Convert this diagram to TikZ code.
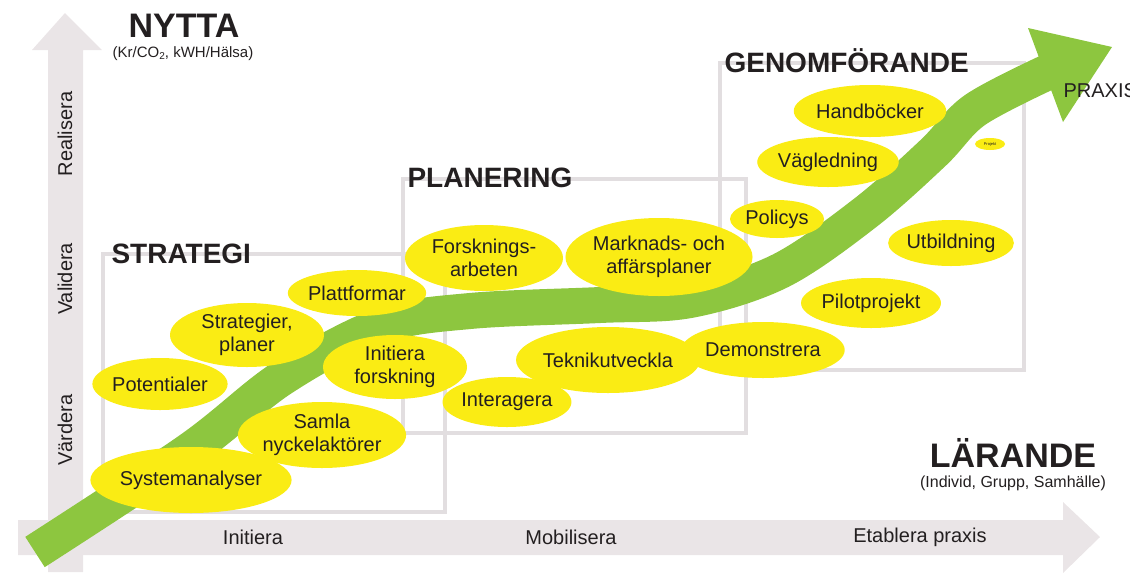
\documentclass[tikz,border=0pt]{standalone}
\usepackage{fontspec}
\setmainfont{Liberation Sans}
\usetikzlibrary{shapes.geometric}
\definecolor{axisgray}{RGB}{234,229,231}
\definecolor{boxgray}{RGB}{226,222,224}
\definecolor{leafgreen}{RGB}{141,198,63}
\definecolor{blobyellow}{RGB}{250,236,20}
\definecolor{inkgray}{RGB}{35,31,32}
\begin{document}
\begin{tikzpicture}[x=1pt,y=-1pt,
		blob/.style 2 args={ellipse, fill=blobyellow, inner sep=0pt, align=center, text=inkgray,
			font=\fontsize{20}{23}\selectfont, minimum width=#1, minimum height=#2},
		boxline/.style={draw=boxgray, line width=4pt},
		title/.style={font=\fontsize{28}{30}\selectfont\bfseries, text=inkgray},
		axislbl/.style={font=\fontsize{20}{22}\selectfont, text=inkgray}]
	\useasboundingbox (0,0) rectangle (1130,587);
	% axes
	\fill[axisgray] (48,572) -- (48,50) -- (32,50) -- (65,13) -- (102,50) -- (83,50) -- (83,572) -- cycle;
	\fill[axisgray] (18,520) -- (1063,520) -- (1063,502) -- (1100,537) -- (1063,573) -- (1063,555) -- (18,555) -- cycle;
	\node[axislbl, rotate=90] (vardera) at (65,430) {Värdera};
	\node[axislbl, rotate=90] (validera) at (65,279) {Validera};
	\node[axislbl, rotate=90] (realisera) at (65,134) {Realisera};
	\node[axislbl] (initiera) at (253,537) {Initiera};
	\node[axislbl] (mobilisera) at (571,537) {Mobilisera};
	\node[axislbl] (etablera) at (920,537) {Etablera praxis};
	\node[font=\fontsize{34}{36}\selectfont\bfseries, text=inkgray] (nytta) at (184,26) {NYTTA};
	\node[font=\fontsize{15}{17}\selectfont, text=inkgray] (nyttasub) at (183,54) {(Kr/CO{\fontsize{10}{10}\selectfont\raisebox{-1.5pt}{2}}, kWH/Hälsa)};
	\node[font=\fontsize{34}{36}\selectfont\bfseries, text=inkgray, inner sep=0pt] (larande) at (1013,453) {LÄRANDE};
	\node[font=\fontsize{16}{18}\selectfont, text=inkgray, inner sep=0pt] (larandesub) at (1013,483) {(Individ, Grupp, Samhälle)};
	% phase boxes
	\draw[boxline] (103,254) rectangle (445,512);
	\draw[boxline] (403,179) rectangle (746,433);
	\draw[boxline] (720,63) rectangle (1024,370);
	\node[title, anchor=west] (strategi) at (108,254) {STRATEGI};
	\node[title, anchor=west] (planering) at (404,178) {PLANERING};
	\node[title, anchor=west] (genomf) at (721,61) {GENOMFÖRANDE};
	% green path
	\draw[leafgreen, line width=36pt] plot[smooth, tension=0.55] coordinates {(35,552) (190,450) (282,378) (380,326) (470,311) (600,305) (690,300) (780,271) (865,213) (933,153) (975,110) (1048,72)};
	\fill[leafgreen] (1028,28) -- (1112,47) -- (1063,122) -- cycle;
	\node[font=\fontsize{20}{22}\selectfont, text=inkgray, anchor=west] (praxis) at (1060,91) {PRAXIS};
	% activities
	\node[blob={158pt}{66pt}] (sysanalys) at (191,480) {Systemanalyser};
	\node[blob={144pt}{66pt}] (samla) at (322,435) {Samla\\nyckelaktörer};
	\node[blob={116pt}{52pt}] (potential) at (160,384) {Potentialer};
	\node[blob={154pt}{64pt}] (strategier) at (247,335) {Strategier,\\planer};
	\node[blob={122pt}{46pt}] (plattform) at (357,293) {Plattformar};
	\node[blob={144pt}{64pt}] (initforsk) at (395,367) {Initiera\\forskning};
	\node[blob={158pt}{66pt}] (forskarb) at (484,258) {Forsknings-\\arbeten};
	\node[blob={116pt}{50pt}] (interagera) at (507,402) {Interagera};
	\node[blob={160pt}{66pt}] (teknik) at (608,360) {Teknikutveckla};
	\node[blob={168pt}{78pt}] (marknad) at (659,257) {Marknads- och\\affärsplaner};
	\node[blob={140pt}{56pt}] (demo) at (763,350) {Demonstrera};
	\node[blob={94pt}{38pt}] (policys) at (777,219) {Policys};
	\node[blob={130pt}{50pt}] (vagledning) at (828,162) {Vägledning};
	\node[blob={126pt}{52pt}] (handbocker) at (870,111) {Handböcker};
	\node[blob={30pt}{12pt}, font=\fontsize{4}{5}\selectfont] (projekt) at (990,144) {Projekt};
	\node[blob={110pt}{46pt}] (utbildning) at (951,243) {Utbildning};
	\node[blob={122pt}{50pt}] (pilot) at (871,303) {Pilotprojekt};
\end{tikzpicture}
\end{document}
